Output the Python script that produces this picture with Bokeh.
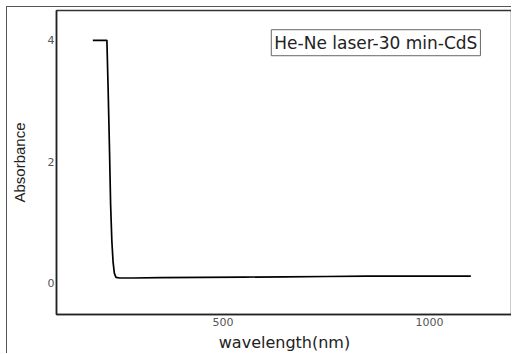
from bokeh.plotting import figure
from bokeh.models import Label, Range1d, FixedTicker
from bokeh.embed import file_html
from bokeh.resources import INLINE

# UV-Vis absorbance spectrum
wavelength = [185, 200, 210, 219, 222, 225, 228, 231, 234, 237, 241, 250, 280,
              350, 450, 550, 650, 750, 850, 950, 1050, 1100]
absorbance = [4.0, 4.0, 4.0, 4.0, 3.2, 2.3, 1.3, 0.7, 0.35, 0.17, 0.10, 0.09, 0.09,
              0.095, 0.10, 0.105, 0.11, 0.115, 0.12, 0.12, 0.12, 0.12]
x_ticks = [500, 1000]
y_ticks = [0, 2, 4]
series_name = "He-Ne laser-30 min-CdS"

p = figure(width=505, height=347, output_backend="svg", toolbar_location=None,
           x_range=Range1d(97, 1201), y_range=Range1d(-0.51, 4.49),
           min_border_left=48, min_border_right=0, min_border_top=3,
           min_border_bottom=39, margin=(6, 0, 0, 6),
           styles={"border-left": "1px solid #555", "border-top": "1px solid #555"})

p.line(wavelength, absorbance, line_color="black", line_width=1.7)

p.grid.visible = False
p.outline_line_color = "#333333"
p.outline_line_width = 1.5
p.background_fill_color = "white"
p.border_fill_color = "white"

for ax in (p.xaxis[0], p.yaxis[0]):
    ax.axis_line_color = "#222222"
    ax.axis_line_width = 1.5
    ax.major_tick_in = 0
    ax.major_tick_out = 0
    ax.minor_tick_line_color = None
    ax.major_label_text_font = "DejaVu Sans"
    ax.major_label_text_font_size = "11px"
    ax.major_label_text_color = "#555555"
    ax.axis_label_text_font_style = "normal"
    ax.axis_label_text_color = "#222222"

p.xaxis.axis_label_text_font = "DejaVu Sans"
p.xaxis.axis_label_text_font_size = "16px"
p.yaxis.axis_label_text_font = "Liberation Sans"
p.yaxis.axis_label_text_font_size = "15px"

p.xaxis.ticker = FixedTicker(ticks=x_ticks)
p.yaxis.ticker = FixedTicker(ticks=y_ticks)
p.xaxis.axis_label = "wavelength(nm)"
p.yaxis.axis_label = "Absorbance"
p.xaxis.major_label_standoff = 3
p.yaxis.major_label_standoff = 2
p.xaxis.axis_label_standoff = 4
p.yaxis.axis_label_standoff = 17

p.add_layout(Label(x=617, y=3.96, text=series_name, text_baseline="middle",
                   text_font="DejaVu Sans", text_font_size="17px",
                   text_color="#222222",
                   border_line_color="#666666", border_line_width=1,
                   background_fill_color="white",
                   padding=3))

open("out.html", "w").write(file_html(p, INLINE))
